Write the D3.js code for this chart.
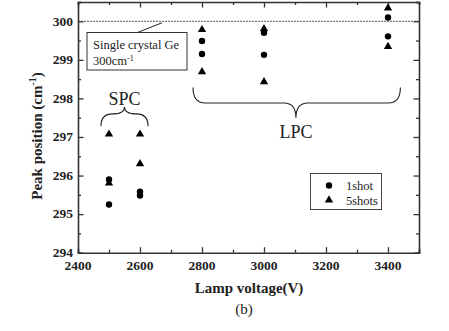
<!DOCTYPE html>
<html><head><meta charset="utf-8">
<script src="https://cdn.jsdelivr.net/npm/d3@7"></script>
<style>body{margin:0;background:#fff}svg{display:block}</style>
</head><body>
<svg id="c" width="449" height="331"></svg>
<script>
const xTicks = [2400, 2600, 2800, 3000, 3200, 3400];
const yTicks = [294, 295, 296, 297, 298, 299, 300];
const oneShotX = [2500, 2500, 2600, 2600, 2800, 2800, 3000, 3000, 3400, 3400];
const oneShotY = [295.9, 295.25, 295.58, 295.48, 299.49, 299.15, 299.7, 299.13, 300.1, 299.61];
const fiveShotX = [2500, 2500, 2600, 2600, 2800, 2800, 3000, 3000, 3400, 3400];
const fiveShotY = [297.09, 295.82, 297.09, 296.32, 299.8, 298.71, 299.82, 298.45, 300.36, 299.36];
const refValue = 300;

const svg = d3.select("#c");
const L = 78, R = 419, T = 2, B = 252.7;
const x = d3.scaleLinear().domain([2400, 3500]).range([L, R]);
const y = d3.scaleLinear().domain([294, 300.5]).range([B, T]);
const serif = "'Liberation Serif','Times New Roman',serif";
const ink = "#222";

// reference dashed line
svg.append("line").attr("x1", x(2400)).attr("x2", x(3500)).attr("y1", y(refValue)).attr("y2", y(refValue))
  .attr("stroke", "#555").attr("stroke-width", 1).attr("stroke-dasharray", "2,1");

// axes with inward ticks
function minor(a, b, s) { const r = []; for (let v = a; v <= b + 1e-9; v += s) r.push(+v.toFixed(3)); return r; }
const xMinor = minor(2400, 3500, 100);
const yMinor = minor(294, 300.5, 0.5);

const gB = svg.append("g").attr("transform", `translate(0,${B})`);
gB.call(d3.axisBottom(x).tickValues(xMinor).tickSize(-3).tickFormat(""));
gB.call(g => g.selectAll(".tick").filter(d => xTicks.includes(d) || d === 3500).select("line").attr("y2", -5.5));
const gT = svg.append("g").attr("transform", `translate(0,${T})`);
gT.call(d3.axisTop(x).tickValues(xMinor).tickSize(-3).tickFormat(""));
gT.call(g => g.selectAll(".tick").filter(d => d % 200 === 0).select("line").attr("y2", 5.5));
const gL = svg.append("g").attr("transform", `translate(${L},0)`);
gL.call(d3.axisLeft(y).tickValues(yMinor).tickSize(-3).tickFormat(""));
gL.call(g => g.selectAll(".tick").filter(d => Number.isInteger(d)).select("line").attr("x2", 5.5));
const gR = svg.append("g").attr("transform", `translate(${R},0)`);
gR.call(d3.axisRight(y).tickValues(yMinor).tickSize(-3).tickFormat(""));
gR.call(g => g.selectAll(".tick").filter(d => Number.isInteger(d)).select("line").attr("x2", -5.5));
svg.selectAll(".domain").attr("stroke", "#333").attr("stroke-width", 1.6);
svg.selectAll(".tick line").attr("stroke", "#333").attr("stroke-width", 1.3);

// tick labels
svg.append("g").selectAll("text").data(xTicks).join("text")
  .attr("x", d => x(d)).attr("y", 269.5).attr("text-anchor", "middle")
  .attr("font-family", serif).attr("font-weight", "bold").attr("font-size", 13.5).attr("fill", ink).text(d => d);
svg.append("g").selectAll("text").data(yTicks).join("text")
  .attr("x", 73).attr("y", d => y(d) + 4.3).attr("text-anchor", "end")
  .attr("font-family", serif).attr("font-weight", "bold").attr("font-size", 13.5).attr("fill", ink).text(d => d);

// axis titles
svg.append("text").attr("x", 249).attr("y", 293).attr("text-anchor", "middle")
  .attr("font-family", serif).attr("font-weight", "bold").attr("font-size", 15).attr("fill", ink).text("Lamp voltage(V)");
const yl = svg.append("text").attr("transform", "translate(42,136) rotate(-90)").attr("text-anchor", "middle")
  .attr("font-family", serif).attr("font-weight", "bold").attr("font-size", 15).attr("fill", ink);
yl.append("tspan").text("Peak position (cm");
yl.append("tspan").attr("dy", -6).attr("font-size", 10).text("-1");
yl.append("tspan").attr("dy", 6).text(")");
svg.append("text").attr("x", 244).attr("y", 314).attr("text-anchor", "middle")
  .attr("font-family", serif).attr("font-size", 15).attr("fill", ink).text("(b)");

// markers
const tri = d3.symbol().type(d3.symbolTriangle).size(30);
svg.append("g").selectAll("circle").data(oneShotX.map((v, i) => [v, oneShotY[i]])).join("circle")
  .attr("cx", d => x(d[0])).attr("cy", d => y(d[1])).attr("r", 3.2).attr("fill", "#000");
svg.append("g").selectAll("path").data(fiveShotX.map((v, i) => [v, fiveShotY[i]])).join("path")
  .attr("d", tri).attr("transform", d => `translate(${x(d[0])},${y(d[1]) + 0.7})`).attr("fill", "#000");

// annotation box
svg.append("line").attr("x1", 137.5).attr("y1", 32.5).attr("x2", 162).attr("y2", y(refValue) + 1.5)
  .attr("stroke", "#222").attr("stroke-width", 1);
svg.append("rect").attr("x", 87).attr("y", 32.5).attr("width", 100).attr("height", 37.5)
  .attr("fill", "#fff").attr("stroke", "#333").attr("stroke-width", 1);
svg.append("text").attr("x", 93).attr("y", 48.5).attr("font-family", serif).attr("font-size", 12.5).attr("fill", ink)
  .text("Single crystal Ge");
const t2 = svg.append("text").attr("x", 93).attr("y", 65).attr("font-family", serif).attr("font-size", 12.5).attr("fill", ink);
t2.append("tspan").text("300cm");
t2.append("tspan").attr("dy", -4).attr("font-size", 8).text("-1");

// braces
function brace(x1, x2, xt, yEnd, yMid, yTip) {
  const r = Math.min(12, (xt - x1) / 2);
  const r2 = Math.min(12, (x2 - xt) / 2);
  return `M${x1},${yEnd} Q${x1},${yMid} ${x1 + r},${yMid} L${xt - r},${yMid} Q${xt},${yMid} ${xt},${yTip}` +
    ` Q${xt},${yMid} ${xt + r2},${yMid} L${x2 - r2},${yMid} Q${x2},${yMid} ${x2},${yEnd}`;
}
svg.append("path").attr("d", brace(x(2474), x(2626), x(2550), y(297.28), y(297.6), y(297.78)))
  .attr("fill", "none").attr("stroke", "#222").attr("stroke-width", 1.1);
svg.append("path").attr("d", brace(x(2771), x(3440), x(3103), y(298.28), y(297.88), y(297.5)))
  .attr("fill", "none").attr("stroke", "#222").attr("stroke-width", 1.1);
svg.append("text").attr("x", x(2550)).attr("y", 105).attr("text-anchor", "middle")
  .attr("font-family", serif).attr("font-size", 18).attr("fill", ink).text("SPC");
svg.append("text").attr("x", x(3103)).attr("y", 137.5).attr("text-anchor", "middle")
  .attr("font-family", serif).attr("font-size", 18).attr("fill", ink).text("LPC");

// legend
const lg = svg.append("g");
lg.append("rect").attr("x", 310.5).attr("y", 173.5).attr("width", 71).attr("height", 36)
  .attr("fill", "#fff").attr("stroke", "#444").attr("stroke-width", 1);
lg.append("circle").attr("cx", 329).attr("cy", 185.5).attr("r", 3.2).attr("fill", "#000");
lg.append("path").attr("d", tri).attr("transform", "translate(329,200)").attr("fill", "#000");
lg.append("text").attr("x", 346).attr("y", 190).attr("font-family", serif).attr("font-size", 12.5).attr("fill", ink).text("1shot");
lg.append("text").attr("x", 346).attr("y", 204.5).attr("font-family", serif).attr("font-size", 12.5).attr("fill", ink).text("5shots");
</script>
</body></html>
